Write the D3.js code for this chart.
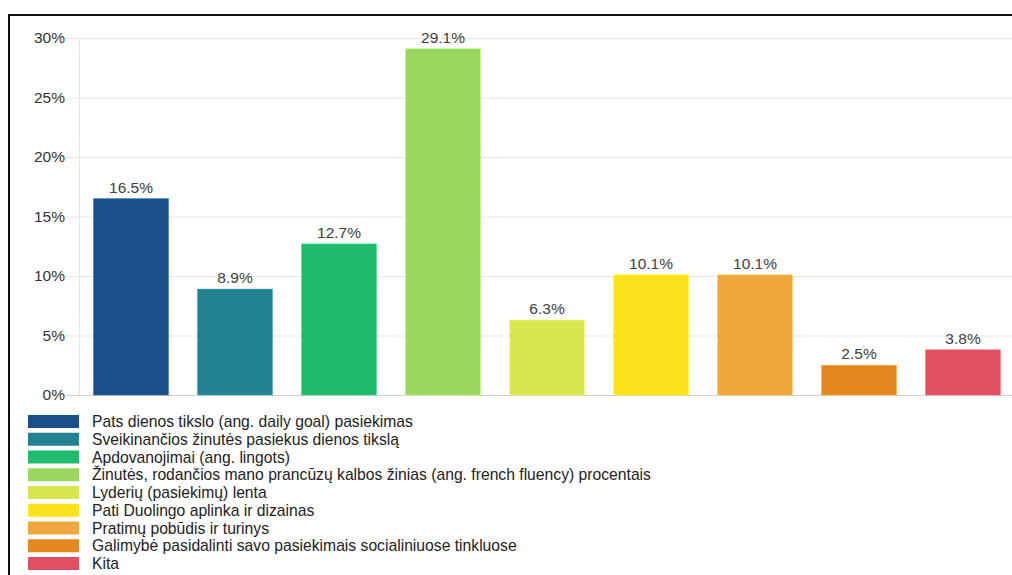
<!DOCTYPE html>
<html>
<head>
<meta charset="utf-8">
<script src="https://cdn.jsdelivr.net/npm/d3@7"></script>
<style>
  html, body { margin: 0; padding: 0; background: #fff; }
  svg { display: block; font-family: Arial, "Liberation Sans", sans-serif; }
</style>
</head>
<body>
<svg id="chart" width="1012" height="575"></svg>
<script>
// Survey answers: what motivates learners most in Duolingo
const categories = [
  "Pats dienos tikslo (ang. daily goal) pasiekimas",
  "Sveikinančios žinutės pasiekus dienos tikslą",
  "Apdovanojimai (ang. lingots)",
  "Žinutės, rodančios mano prancūzų kalbos žinias (ang. french fluency) procentais",
  "Lyderių (pasiekimų) lenta",
  "Pati Duolingo aplinka ir dizainas",
  "Pratimų pobūdis ir turinys",
  "Galimybė pasidalinti savo pasiekimais socialiniuose tinkluose",
  "Kita"
];
const shares = [16.5, 8.9, 12.7, 29.1, 6.3, 10.1, 10.1, 2.5, 3.8];
const colors = ["#1b4f8c", "#23828f", "#1fba6b", "#99d75f", "#d8e74f", "#fde21b", "#eea63d", "#e5871f", "#e34f62"];
const yTicks = [0, 5, 10, 15, 20, 25, 30];

const svg = d3.select("#chart");

// frame around the chart
svg.append("path")
  .attr("d", "M9,1012 V15 H1020")
  .attr("fill", "none")
  .attr("stroke", "#111")
  .attr("stroke-width", 2);

const plot = { left: 79, right: 1015, top: 38, bottom: 395 };

const x = d3.scaleBand()
  .domain(categories)
  .range([plot.left, plot.right])
  .paddingInner(0.28)
  .paddingOuter(0.14);

const y = d3.scaleLinear()
  .domain([0, 30])
  .range([plot.bottom, plot.top]);

// horizontal grid with short ticks to the labels
const yAxis = d3.axisLeft(y)
  .tickValues(yTicks)
  .tickFormat(d => d + "%")
  .tickSize(-(plot.right - plot.left))
  .tickPadding(14);

const gy = svg.append("g")
  .attr("transform", `translate(${plot.left},0)`)
  .call(yAxis);
gy.select(".domain").remove();
gy.selectAll(".tick line")
  .attr("x1", -13)
  .attr("stroke", d => d === 0 ? "#cfcfcf" : "#e6e6e6")
  .attr("stroke-width", 1);
gy.selectAll(".tick text")
  .attr("font-size", 15.5)
  .attr("fill", "#333")
  .attr("dy", "0.32em");

// vertical line at the left edge of the plot
svg.append("line")
  .attr("x1", plot.left + 0.5).attr("x2", plot.left + 0.5)
  .attr("y1", plot.top).attr("y2", plot.bottom)
  .attr("stroke", "#e6e6e6");

// bars
svg.append("g").selectAll("rect")
  .data(categories)
  .join("rect")
  .attr("x", d => x(d))
  .attr("width", x.bandwidth())
  .attr("y", (d, i) => y(shares[i]))
  .attr("height", (d, i) => y(0) - y(shares[i]))
  .attr("fill", (d, i) => colors[i])
  .attr("stroke", (d, i) => d3.color(colors[i]).brighter(0.6))
  .attr("stroke-opacity", 0.5)
  .attr("stroke-width", 1);

// value labels
svg.append("g").selectAll("text")
  .data(categories)
  .join("text")
  .attr("x", d => x(d) + x.bandwidth() / 2)
  .attr("y", (d, i) => y(shares[i]) - 6)
  .attr("text-anchor", "middle")
  .attr("font-size", 15.5)
  .attr("fill", "#404040")
  .text((d, i) => d3.format(".1f")(shares[i]) + "%");

// legend
const legend = svg.append("g").attr("transform", "translate(28,415)");
const rows = legend.selectAll("g")
  .data(categories)
  .join("g")
  .attr("transform", (d, i) => `translate(0,${i * 17.75})`);
rows.append("rect")
  .attr("width", 51)
  .attr("height", 13)
  .attr("fill", (d, i) => colors[i]);
rows.append("text")
  .attr("x", 64)
  .attr("y", 6.5)
  .attr("dy", "0.35em")
  .attr("font-size", 15.7)
  .attr("fill", "#222")
  .text(d => d);
</script>
</body>
</html>
